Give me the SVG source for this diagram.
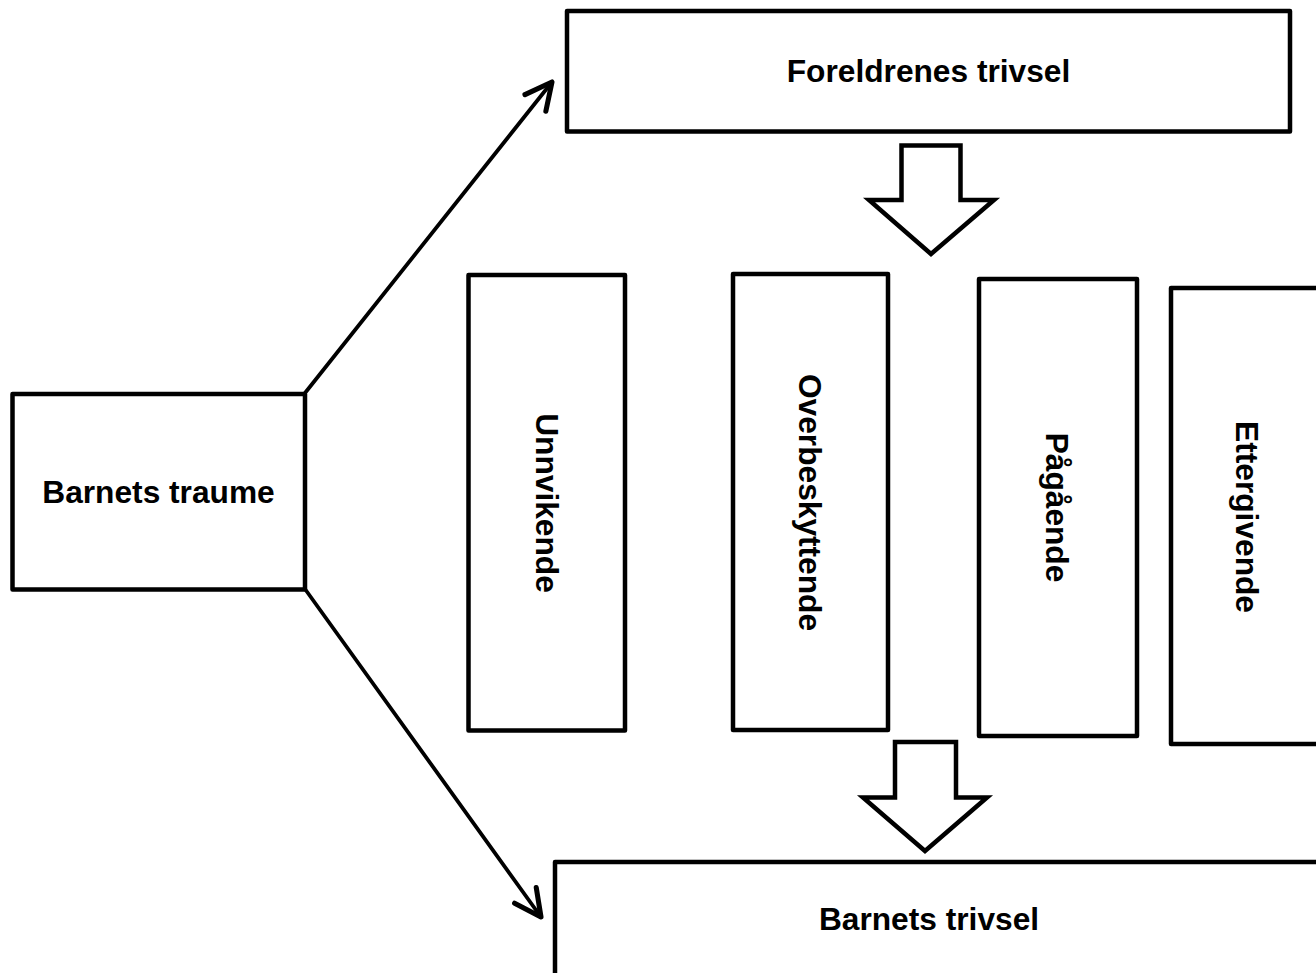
<svg xmlns="http://www.w3.org/2000/svg" width="1316" height="973" viewBox="0 0 1316 973">
  <style>
    .box { fill: #ffffff; stroke: #000000; stroke-width: 4.5; stroke-linejoin: round; }
    .blk { fill: #ffffff; stroke: #000000; stroke-width: 4.5; stroke-linejoin: miter; }
    .con { fill: none; stroke: #000000; stroke-width: 3.8; stroke-linecap: round; }
    .lbl { font-family: "Liberation Sans", Arial, sans-serif; font-weight: bold; font-size: 31.7px; fill: #000000; text-anchor: middle; }
  </style>
  <defs>
    <marker id="openArrow" markerUnits="userSpaceOnUse" markerWidth="40" markerHeight="40" viewBox="-25 -15 30 30" refX="0" refY="0" orient="auto" overflow="visible">
      <path d="M -20,-10 L 0,0 L -20,10" fill="none" stroke="#000000" stroke-width="3.8" stroke-linecap="round" stroke-linejoin="round"/>
    </marker>
  </defs>
  <rect width="1316" height="973" fill="#ffffff"/>

  <g id="connectors">
    <line class="con" x1="305" y1="393" x2="552" y2="82" marker-end="url(#openArrow)"/>
    <line class="con" x1="305" y1="589" x2="541" y2="917" marker-end="url(#openArrow)"/>
    <polygon class="blk" points="901.5,145.5 960.5,145.5 960.5,200 994,200 931,254 869,200 901.5,200"/>
    <polygon class="blk" points="895,742 956,742 956,797.5 987,797.5 925,851 863,797.5 895,797.5"/>
  </g>

  <g id="barnets-traume">
    <rect class="box" x="12.5" y="394" width="292.5" height="195.5"/>
    <text class="lbl" x="158.5" y="503">Barnets traume</text>
  </g>

  <g id="foreldrenes-trivsel">
    <rect class="box" x="567" y="11" width="723" height="120.5"/>
    <text class="lbl" x="928.5" y="82">Foreldrenes trivsel</text>
  </g>

  <g id="barnets-trivsel">
    <rect class="box" x="555" y="862" width="800" height="160"/>
    <text class="lbl" x="929" y="930">Barnets trivsel</text>
  </g>

  <g id="unnvikende">
    <rect class="box" x="468.5" y="275" width="156.5" height="455.5"/>
    <text class="lbl" transform="translate(546.5,503) rotate(90)" x="0" y="11">Unnvikende</text>
  </g>

  <g id="overbeskyttende">
    <rect class="box" x="733" y="274" width="155" height="456"/>
    <text class="lbl" transform="translate(810,502.5) rotate(90)" x="0" y="11">Overbeskyttende</text>
  </g>

  <g id="pagaende">
    <rect class="box" x="979" y="279" width="158" height="457"/>
    <text class="lbl" transform="translate(1056.5,507.5) rotate(90)" x="0" y="11">Pågående</text>
  </g>

  <g id="ettergivende">
    <rect class="box" x="1171" y="288" width="160" height="456"/>
    <text class="lbl" transform="translate(1247,517) rotate(90)" x="0" y="11">Ettergivende</text>
  </g>
</svg>
